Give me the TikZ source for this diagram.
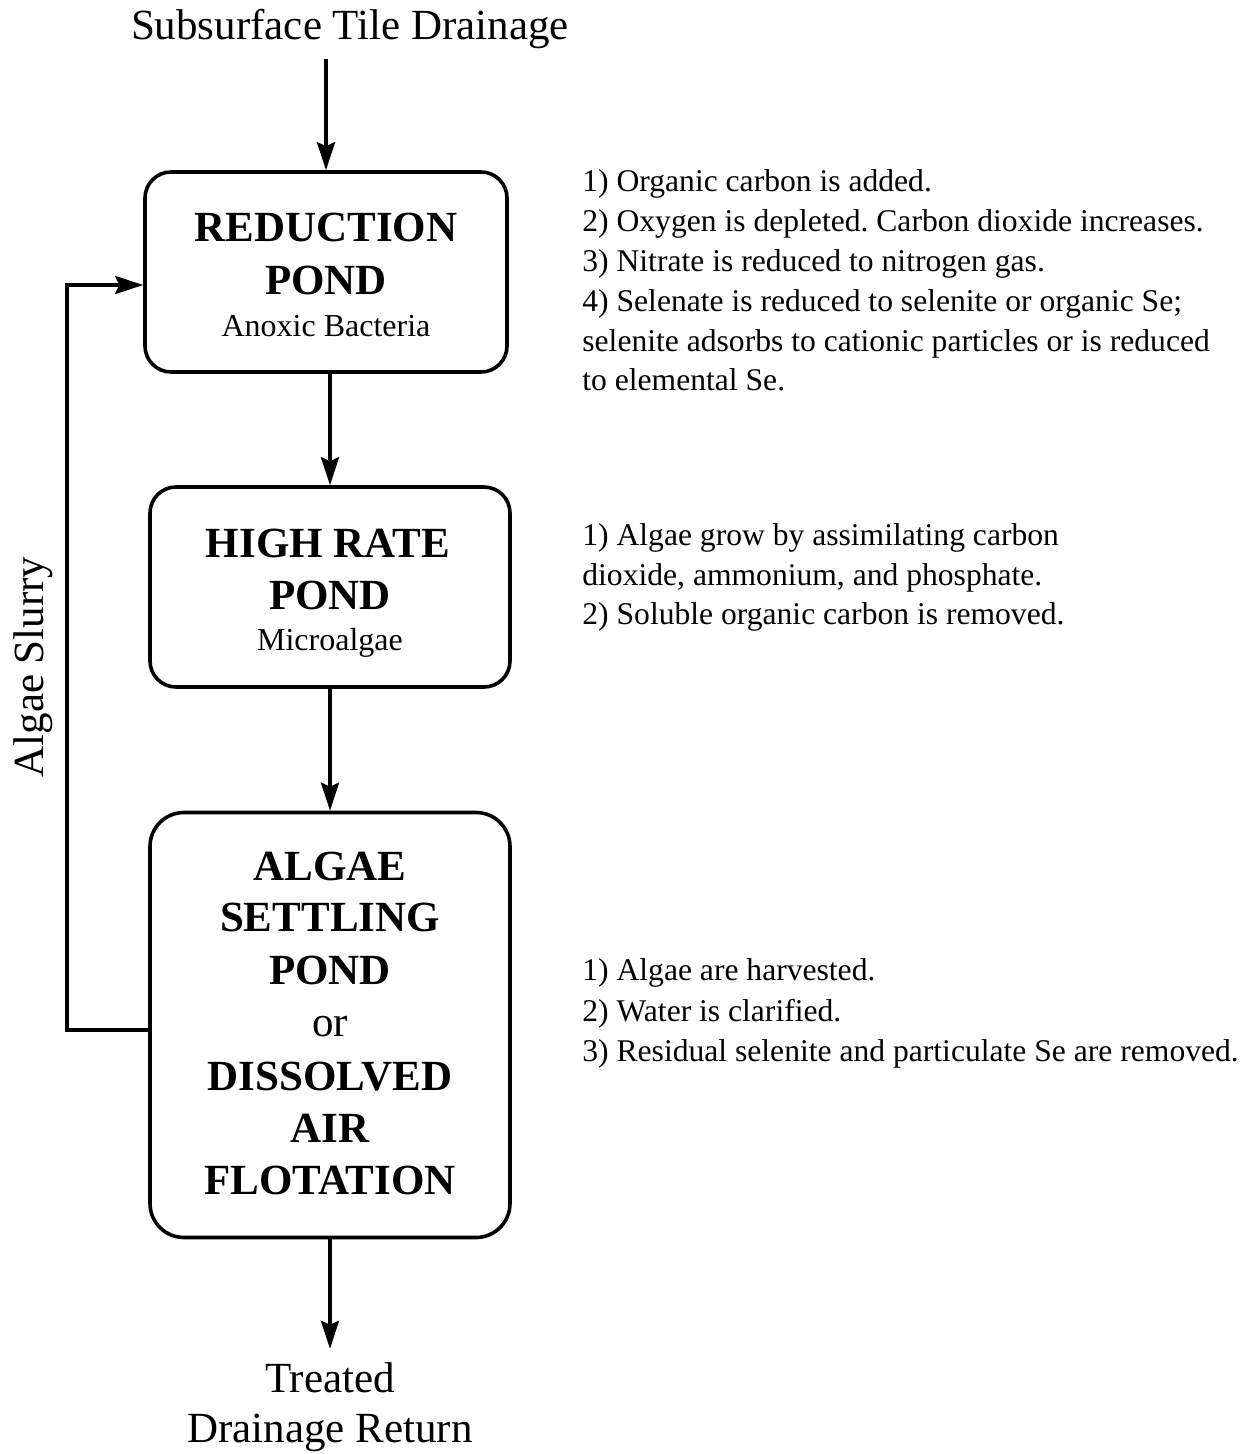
\documentclass[tikz,border=0pt]{standalone}
\usepackage{fontspec}
\setmainfont{Liberation Serif}
\usetikzlibrary{arrows.meta}
\frenchspacing
\begin{document}
\begin{tikzpicture}[x=0.5pt,y=-0.5pt,
  pond/.style={draw,line width=1.8pt,rounded corners=13pt,inner sep=0pt,minimum width=180pt},
  ttl/.style={anchor=base,inner sep=0pt,font=\fontsize{21.5}{26}\selectfont\bfseries},
  sub/.style={anchor=base,inner sep=0pt,font=\fontsize{16}{20}\selectfont},
  big/.style={anchor=base,inner sep=0pt,font=\fontsize{21.5}{26}\selectfont},
  note/.style={anchor=base west,inner sep=0pt,font=\fontsize{15.8}{20}\selectfont},
  arr/.style={line width=1.8pt,-{Stealth[length=14pt,width=9pt,inset=2pt]}},
  ln/.style={line width=1.8pt}]
\useasboundingbox (0,0) rectangle (1255,1454);

% boxes
\node[pond,minimum width=181pt,minimum height=100pt] (box1) at (326,272) {};
\node[pond,minimum height=100pt] (box2) at (330,587) {};
\node[pond,rounded corners=17pt,minimum height=212.5pt] (box3) at (330,1025) {};

% box texts
\node[ttl] (t1a) at (326,242) {REDUCTION};
\node[ttl] (t1b) at (326,295) {POND};
\node[sub] (t1c) at (326,337) {Anoxic Bacteria};

\node[ttl] (t2a) at (328,557) {HIGH RATE};
\node[ttl] (t2b) at (330,609) {POND};
\node[sub] (t2c) at (330,650) {Microalgae};

\node[ttl] (t3a) at (330,880) {ALGAE};
\node[ttl] (t3b) at (330,931) {SETTLING};
\node[ttl] (t3c) at (330,984) {POND};
\node[big] (t3d) at (330,1036) {or};
\node[ttl] (t3e) at (330,1090) {DISSOLVED};
\node[ttl] (t3f) at (330,1142) {AIR};
\node[ttl] (t3g) at (330,1194) {FLOTATION};

% outer labels
\node[big,outer sep=0pt] (src) at (350,40) {Subsurface Tile Drainage};
\node[big] (treated) at (330,1392) {Treated};
\node[big] (ret) at (330,1442) {Drainage Return};
\node[big,rotate=90,anchor=center] (slurry) at (33,667) {Algae Slurry};

% connectors
\draw[arr] ([yshift=-5pt]src.south -| box1.north) -- (box1.north);
\draw[arr] (box1.south -| box2.north) -- (box2.north);
\draw[arr] (box2.south) -- (box3.north);
\draw[arr] (box3.south) -- ([yshift=6.5pt]treated.north);
\coordinate (fbc) at (67,1030);
\coordinate (fbtop) at (67,285);
\draw[arr] (box3.west |- fbc) -- (fbc) -- (fbtop) -- (fbtop -| box1.west);

% notes
\node[note] (n11) at (582,192) {1) Organic carbon is added.};
\node[note] (n12) at (582,232) {2) Oxygen is depleted. Carbon dioxide increases.};
\node[note] (n13) at (582,272) {3) Nitrate is reduced to nitrogen gas.};
\node[note] (n14) at (582,312) {4) Selenate is reduced to selenite or organic Se;};
\node[note] (n15) at (582,352) {selenite adsorbs to cationic particles or is reduced};
\node[note] (n16) at (582,391) {to elemental Se.};

\node[note] (n21) at (582,545) {1) Algae grow by assimilating carbon};
\node[note] (n22) at (582,585) {dioxide, ammonium, and phosphate.};
\node[note] (n23) at (582,624) {2) Soluble organic carbon is removed.};

\node[note] (n31) at (582,980) {1) Algae are harvested.};
\node[note] (n32) at (582,1021) {2) Water is clarified.};
\node[note] (n33) at (582,1061) {3) Residual selenite and particulate Se are removed.};
\end{tikzpicture}
\end{document}
